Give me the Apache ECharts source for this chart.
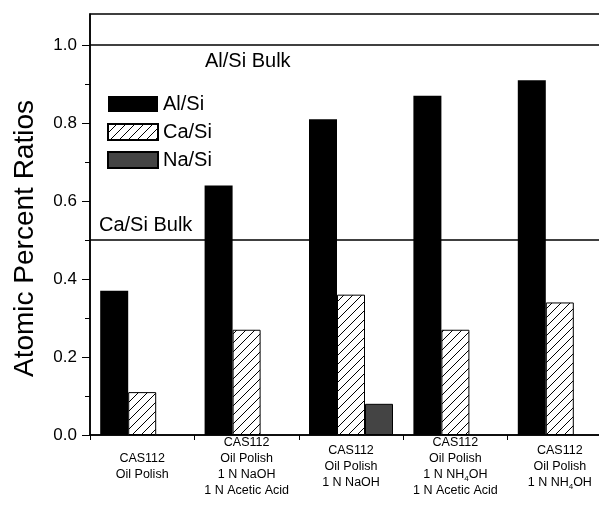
<!DOCTYPE html>
<html>
<head>
<meta charset="utf-8">
<script src="https://cdn.jsdelivr.net/npm/echarts@6/dist/echarts.min.js"></script>
<style>
  html, body { margin: 0; padding: 0; background: #fff; }
  #chart { width: 599px; height: 506px; }
</style>
</head>
<body>
<div id="chart"></div>
<script>
// data
const categories = [
  "CAS112\nOil Polish",
  "CAS112\nOil Polish\n1 N NaOH\n1 N Acetic Acid",
  "CAS112\nOil Polish\n1 N NaOH",
  "CAS112\nOil Polish\n1 N NH4OH\n1 N Acetic Acid",
  "CAS112\nOil Polish\n1 N NH4OH"
];
const alSi = [0.37, 0.64, 0.81, 0.87, 0.91];
const caSi = [0.11, 0.27, 0.36, 0.27, 0.34];
const naSi = [null, null, 0.08, null, null];
const bulkNames = ["Al/Si Bulk", "Ca/Si Bulk"];
const bulkValues = [1.0, 0.5];
const yTicks = [0, 0.2, 0.4, 0.6, 0.8, 1.0];
const yMinorTicks = [0.1, 0.3, 0.5, 0.7, 0.9];

const FONT = "'Liberation Sans', Arial, Helvetica, sans-serif";

// hatch pattern for Ca/Si
function makeHatch() {
  const s = 9;
  const c = document.createElement("canvas");
  c.width = s; c.height = s;
  const ctx = c.getContext("2d");
  ctx.fillStyle = "#fff";
  ctx.fillRect(0, 0, s, s);
  ctx.strokeStyle = "#000";
  ctx.lineWidth = 1;
  ctx.beginPath();
  ctx.moveTo(0, s); ctx.lineTo(s, 0);
  ctx.moveTo(-2, 2); ctx.lineTo(2, -2);
  ctx.moveTo(s - 2, s + 2); ctx.lineTo(s + 2, s - 2);
  ctx.stroke();
  return c;
}

let myChart = echarts.init(document.getElementById("chart"));

let option = {
  animation: false,
  backgroundColor: "#fff",
  textStyle: { fontFamily: FONT, color: "#000" },
  grid: {
    // plot runs past the right edge of the picture
    left: 90, width: 522, top: 14, bottom: 71,
    outerBoundsMode: "none",
    show: true, borderColor: "#000", borderWidth: 1.5
  },
  legend: {
    orient: "vertical",
    left: 102, top: 89,
    itemWidth: 50, itemHeight: 16, itemGap: 8,
    icon: "rect",
    textStyle: { fontSize: 20, fontFamily: FONT, color: "#000" },
    data: ["Al/Si", "Ca/Si", "Na/Si"]
  },
  xAxis: {
    type: "category",
    data: categories,
    axisLine: { lineStyle: { color: "#000", width: 1.5 } },
    axisTick: { show: true, length: 5, lineStyle: { color: "#000" } },
    axisLabel: {
      interval: 0,
      fontSize: 12.5,
      lineHeight: 16,
      color: "#000",
      fontFamily: FONT,
      verticalAlign: "middle",
      margin: 32,
      formatter: function (v) {
        return v.replace(/NH4OH/g, "NH{sub|4}OH");
      },
      rich: {
        sub: { fontSize: 8, lineHeight: 16, verticalAlign: "bottom", fontFamily: FONT, color: "#000" }
      }
    }
  },
  yAxis: [
    {
      type: "value",
      min: 0, max: 1.08,
      name: "Atomic Percent Ratios",
      nameLocation: "middle",
      nameGap: 51,
      nameTextStyle: { fontSize: 28, fontFamily: FONT, color: "#000", padding: [0, 28, 0, 0] },
      axisLine: { show: true, lineStyle: { color: "#000", width: 1.5 } },
      axisTick: { show: true, length: 8, customValues: yTicks, lineStyle: { color: "#000" } },
      axisLabel: {
        customValues: yTicks,
        fontSize: 17, margin: 13, color: "#000", fontFamily: FONT,
        formatter: function (v) { return v.toFixed(1); }
      },
      splitLine: { show: false }
    },
    {
      type: "value",
      position: "left",
      min: 0, max: 1.08,
      axisLine: { show: false },
      axisTick: { show: true, length: 5, customValues: yMinorTicks, lineStyle: { color: "#000" } },
      axisLabel: { show: false },
      splitLine: { show: false }
    }
  ],
  series: [
    {
      name: "Al/Si",
      type: "bar",
      data: alSi,
      barWidth: 28,
      barGap: "0%",
      itemStyle: { color: "#000" },
      markLine: {
        silent: true,
        symbol: ["none", "none"],
        lineStyle: { color: "#000", type: "solid", width: 1.5 },
        label: { formatter: "{b}", fontSize: 20, fontFamily: FONT, color: "#000" },
        data: [
          { name: bulkNames[0], yAxis: bulkValues[0], label: { position: "insideStartBottom", offset: [110, 1] } },
          { name: bulkNames[1], yAxis: bulkValues[1], label: { position: "insideStartTop", offset: [4, 0] } }
        ]
      }
    },
    {
      name: "Ca/Si",
      type: "bar",
      data: caSi,
      barWidth: 28,
      barGap: "0%",
      itemStyle: { color: { image: makeHatch(), repeat: "repeat" }, borderColor: "#000", borderWidth: 1 }
    },
    {
      name: "Na/Si",
      type: "bar",
      data: naSi,
      barWidth: 28,
      barGap: "0%",
      itemStyle: { color: "#444", borderColor: "#000", borderWidth: 1 }
    }
  ]
};

myChart.setOption(option);
</script>
</body>
</html>
